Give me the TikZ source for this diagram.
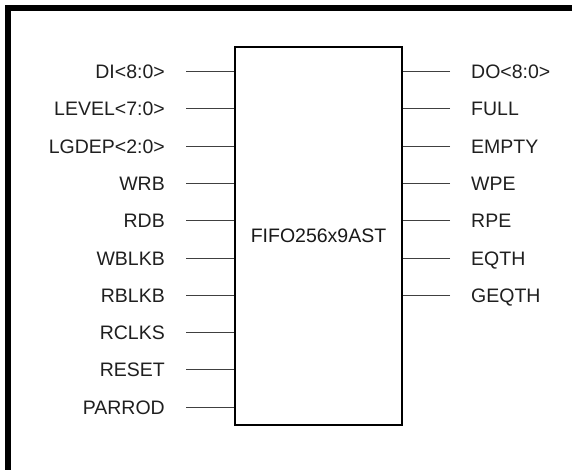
\documentclass[tikz,border=0pt]{standalone}
\usepackage{fontspec}
\setmainfont{Liberation Sans}
\begin{document}
\begin{tikzpicture}[x=1pt, y=-1pt, font=\fontsize{19.5}{23}\selectfont,
  pinname/.style={text=black!88, text height=14pt, text depth=0pt, inner ysep=0pt, inner xsep=21pt},
  pinline/.style={draw=black!75, line width=1pt}]
\useasboundingbox (0,0) rectangle (577,470);
\draw[line width=5.5pt] (572,8) -- (8,8) -- (8,470);
\node[draw, line width=1.3pt, minimum width=167pt, minimum height=378pt, inner sep=0pt, text=black!90] (fifo) at (318.5,236) {FIFO256x9AST};
\foreach \t [count=\i from 0] in {DI<8:0>, LEVEL<7:0>, LGDEP<2:0>, WRB, RDB, WBLKB, RBLKB, RCLKS, RESET, PARROD} {
  \node[pinname, anchor=east] (l\i) at (186,71.5+37.3*\i) {\t};
  \draw[pinline] (l\i) -- (l\i -| fifo.west);
}
\foreach \t [count=\i from 0] in {DO<8:0>, FULL, EMPTY, WPE, RPE, EQTH, GEQTH} {
  \node[pinname, anchor=west] (r\i) at (450,71.5+37.3*\i) {\t};
  \draw[pinline] (r\i) -- (r\i -| fifo.east);
}
\end{tikzpicture}
\end{document}
